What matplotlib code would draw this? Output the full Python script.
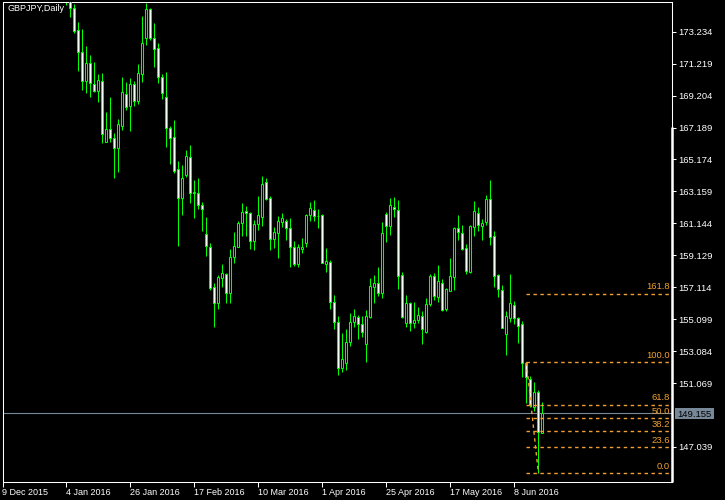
import numpy as np
import matplotlib.pyplot as plt
import matplotlib.transforms as mtransforms
from matplotlib.patches import Rectangle

plt.rcParams['font.family'] = ['Liberation Sans', 'DejaVu Sans']

# daily bars, bar 0 = 9 Dec 2015; bars before 16 sit above the visible range
first_bar = 16
opens = [177.20, 175.30, 174.71, 173.34, 171.95, 170.12, 171.26, 169.93, 169.49, 170.12,
         166.28, 167.10, 166.53, 165.90, 167.28, 169.30, 168.55, 169.93, 168.86, 170.57,
         172.84, 174.67, 172.84, 172.21, 170.38, 169.11, 167.16, 166.59, 164.57, 162.74,
         164.19, 165.33, 163.03, 163.06, 162.30, 160.47, 159.65, 157.13, 156.12, 157.70,
         157.95, 156.75, 159.02, 159.65, 161.16, 161.92, 161.80, 160.03, 161.10, 161.54,
         163.75, 162.74, 160.16, 160.53, 161.23, 161.29, 160.85, 159.65, 158.58, 159.52,
         159.90, 161.67, 161.99, 161.61, 161.67, 158.58, 158.70, 156.18, 154.92, 152.02,
         152.33, 153.66, 154.92, 155.23, 154.79, 153.53, 155.23, 157.13, 157.38, 156.75,
         161.73, 160.98, 162.17, 161.99, 157.88, 154.86, 156.12, 154.86, 155.05, 155.30,
         154.29, 156.06, 157.82, 156.50, 157.38, 155.74, 156.88, 157.76, 160.85, 160.53,
         159.59, 158.07, 160.91, 161.80, 160.98, 161.23, 162.68, 160.34, 157.88, 156.94,
         154.16, 155.17, 155.99, 155.17, 154.79, 152.33, 151.32, 149.56, 150.50, 147.92]
highs = [177.50, 175.60, 174.98, 173.85, 173.40, 172.33, 171.76, 171.32, 170.57, 170.63,
         168.17, 169.11, 166.84, 167.73, 170.38, 170.06, 170.31, 170.12, 171.20, 174.22,
         175.04, 174.73, 173.78, 172.52, 170.57, 170.69, 167.28, 167.66, 165.08, 164.82,
         165.77, 166.09, 163.88, 164.00, 162.49, 161.54, 159.90, 157.38, 157.88, 158.58,
         158.00, 159.52, 160.60, 161.29, 162.43, 162.24, 161.86, 161.35, 162.87, 164.13,
         164.00, 162.87, 160.91, 161.61, 161.80, 161.42, 161.48, 160.03, 159.84, 160.22,
         161.73, 162.49, 162.62, 162.05, 161.73, 159.59, 158.83, 156.62, 155.30, 154.22,
         154.48, 155.49, 155.74, 155.36, 155.30, 155.68, 157.70, 157.88, 158.39, 161.23,
         161.86, 162.74, 162.81, 162.62, 158.07, 156.62, 156.18, 156.18, 155.87, 155.61,
         156.43, 157.95, 158.01, 158.52, 157.63, 157.06, 158.96, 160.91, 161.67, 161.04,
         159.84, 161.04, 162.55, 162.17, 161.42, 162.93, 163.88, 160.66, 157.95, 157.25,
         155.61, 157.95, 156.24, 155.23, 154.98, 152.38, 151.51, 151.13, 150.63, 149.87]
lows = [174.92, 174.16, 173.15, 170.76, 169.56, 169.37, 169.11, 169.45, 168.80, 166.21,
        166.25, 166.27, 164.00, 164.38, 167.03, 168.29, 166.97, 168.55, 168.67, 170.06,
        172.40, 172.71, 171.01, 170.00, 168.99, 165.96, 164.90, 164.32, 159.71, 161.67,
        164.07, 162.43, 161.48, 162.05, 160.66, 159.08, 156.94, 154.60, 155.74, 157.13,
        156.12, 156.12, 158.64, 159.62, 160.34, 160.34, 159.52, 159.46, 160.72, 160.98,
        162.62, 159.46, 159.59, 158.96, 160.91, 160.09, 158.39, 158.45, 158.39, 159.27,
        159.65, 161.29, 161.29, 160.85, 158.61, 158.07, 155.74, 154.48, 151.58, 151.77,
        151.89, 153.41, 154.60, 153.85, 153.97, 152.39, 155.20, 156.12, 156.56, 156.43,
        159.97, 160.41, 161.54, 157.00, 155.17, 154.60, 154.35, 154.54, 154.86, 153.53,
        154.22, 155.93, 156.31, 156.18, 155.61, 155.61, 156.85, 156.94, 160.09, 159.46,
        157.95, 158.01, 160.34, 160.66, 160.09, 161.04, 159.78, 157.13, 156.50, 154.51,
        152.84, 154.92, 154.79, 153.59, 151.45, 149.81, 149.56, 149.30, 145.37, 147.89]
closes = [175.30, 174.71, 173.30, 171.95, 170.12, 171.26, 170.00, 169.49, 170.19, 166.78,
          167.10, 166.53, 165.90, 167.41, 169.43, 168.48, 169.93, 168.86, 170.63, 172.52,
          174.67, 172.84, 172.14, 170.38, 169.37, 167.16, 166.53, 164.45, 162.74, 164.00,
          165.39, 163.06, 163.09, 162.30, 162.05, 159.71, 157.06, 156.12, 157.76, 158.01,
          156.75, 159.02, 159.71, 161.16, 161.86, 161.80, 160.03, 161.10, 161.67, 163.63,
          162.68, 160.16, 160.60, 161.29, 161.48, 160.85, 159.65, 158.58, 159.65, 159.65,
          161.67, 162.11, 161.61, 161.58, 158.64, 158.77, 156.18, 154.92, 152.02, 152.59,
          153.66, 154.92, 155.30, 154.79, 154.29, 155.30, 157.19, 157.38, 156.75, 160.53,
          160.98, 162.30, 162.05, 157.82, 155.23, 156.12, 154.86, 155.05, 155.36, 154.48,
          156.06, 157.82, 156.56, 157.51, 155.68, 157.00, 157.82, 160.85, 160.60, 159.52,
          158.14, 160.98, 161.92, 161.04, 161.16, 162.68, 160.28, 157.82, 157.00, 154.54,
          155.30, 156.12, 155.17, 154.67, 152.33, 151.45, 149.68, 150.50, 147.98, 149.155]

date_ticks = [0, 16, 32, 48, 64, 80, 96, 112, 128]
date_labels = ['9 Dec 2015', '4 Jan 2016', '26 Jan 2016', '17 Feb 2016', '10 Mar 2016',
               '1 Apr 2016', '25 Apr 2016', '17 May 2016', '8 Jun 2016']
price_ticks = [147.039, 151.069, 153.084, 155.099, 157.114, 159.129, 161.144,
               163.159, 165.174, 167.189, 169.204, 171.219, 173.234]

bid = 149.155
fib_levels = [0.0, 23.6, 38.2, 50.0, 61.8, 100.0, 161.8]
fib_high, fib_low = 152.376, 145.373
fib_start, fib_end = 131, 134

green = '#00ff00'
orange = '#f0a030'
slate = '#778899'

fig = plt.figure(figsize=(7.25, 5), dpi=100, facecolor='black')
ax = fig.add_axes([2.5 / 725, 18.5 / 500, 669.5 / 725, 479.2 / 500])
ax.set_facecolor('black')
xmax = 167.4
ax.set_xlim(0, xmax)
ax.set_ylim(144.856, 175.089)

for s in ax.spines.values():
    s.set_color('white')
    s.set_linewidth(0.75)

idx = np.arange(first_bar, first_bar + len(opens))
o = np.array(opens); h = np.array(highs); l = np.array(lows); c = np.array(closes)

ax.axhline(bid, color=slate, lw=0.8, zorder=1)

ax.vlines(idx, l, h, color=green, lw=0.75, zorder=2)
for i, oo, cc in zip(idx, o, c):
    lo = min(oo, cc)
    hgt = max(abs(cc - oo), 0.005)
    face = 'white' if cc < oo else 'black'
    ax.add_patch(Rectangle((i - 0.25, lo), 0.5, hgt, facecolor=face,
                           edgecolor=green, lw=0.75, zorder=3))

# fibonacci retracement
fib_prices = [fib_low + (fib_high - fib_low) * p / 100 for p in fib_levels]
ax.hlines(fib_prices, fib_start, xmax, colors=orange, lw=1.0,
          linestyles=(0, (2.5, 2.5)), zorder=4)
ax.plot([fib_start, fib_end], [fib_high, fib_low], color=orange, lw=1.0,
        ls=(0, (2.5, 2.5)), zorder=4)
ytr = ax.get_yaxis_transform()
for p, fp in zip(fib_levels, fib_prices):
    ax.text(0.9965, fp + 0.14, f'{p:.1f}', transform=ytr, ha='right', va='bottom',
            color=orange, fontsize=6.8, zorder=5)

# axes ticks
ax.yaxis.tick_right()
ax.set_yticks(price_ticks)
ax.set_yticklabels([f'{v:.3f}' for v in price_ticks])
ax.tick_params(axis='y', colors='white', length=3, width=0.75, pad=1.5, labelsize=6.8)
ax.set_xticks(date_ticks)
ax.set_xticklabels(date_labels, ha='left')
ax.tick_params(axis='x', colors='white', length=3.5, width=0.75, pad=1.5, labelsize=6.5)

# thick scale marker on the right
ax.plot([1, 1], [167.24, 144.856], transform=ytr, color='white', lw=1.8,
        solid_capstyle='butt', clip_on=False, zorder=6)

# bid label
btr = mtransforms.blended_transform_factory(fig.transFigure, ax.transData)
ax.add_patch(Rectangle((675 / 725, bid - 0.33), 39 / 725, 0.66, transform=btr,
                       facecolor=slate, edgecolor='none', clip_on=False, zorder=6))
ax.text(694.5 / 725, bid - 0.05, f'{bid:.3f}', transform=btr, ha='center', va='center',
        color='black', fontsize=6.8, clip_on=False, zorder=7)

fig.text(7.3 / 725, 1 - 4.3 / 500, 'GBPJPY,Daily', color='white', fontsize=6.5,
         ha='left', va='top')

fig.savefig('out.png', dpi=100, facecolor='black')
